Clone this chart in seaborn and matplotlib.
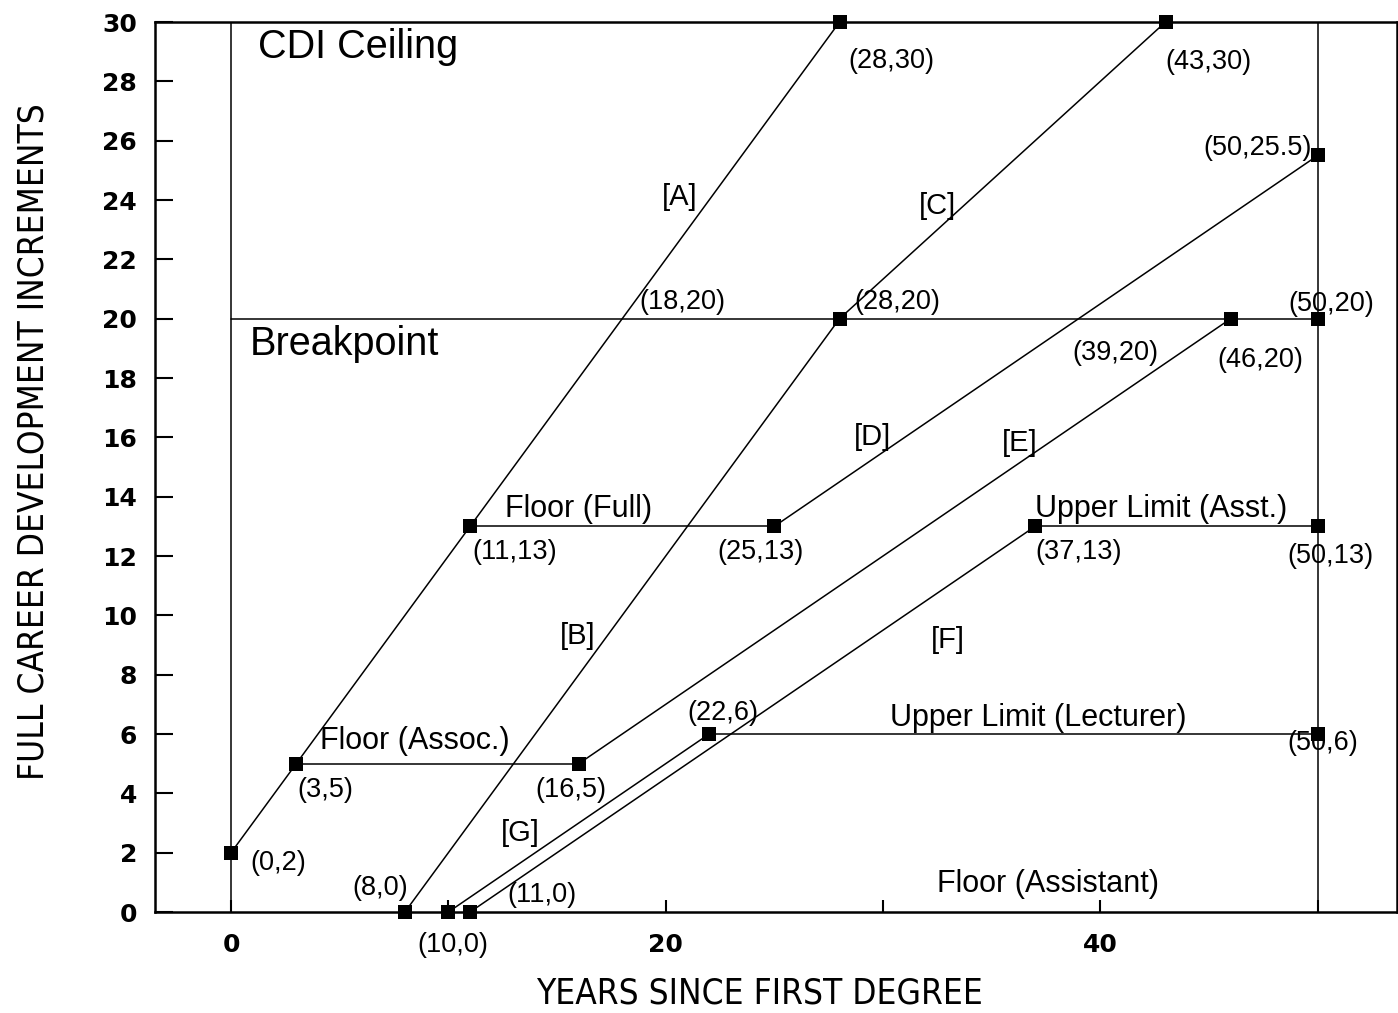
import numpy as np
import pandas as pd
import matplotlib
matplotlib.use("Agg")
import matplotlib.pyplot as plt
import seaborn as sns

# rising paths (years since first degree, CDI increments)
path_A_x = [0, 3, 11, 28]
path_A_y = [2, 5, 13, 30]
path_B_x = [8, 28]
path_B_y = [0, 20]
path_C_x = [28, 43]
path_C_y = [20, 30]
path_D_x = [25, 50]
path_D_y = [13, 25.5]
path_E_x = [16, 46]
path_E_y = [5, 20]
path_F_x = [11, 37]
path_F_y = [0, 13]
path_G_x = [10, 22]
path_G_y = [0, 6]

# horizontal limits / floors
level_names = ["Breakpoint", "Floor (Full)", "Floor (Assoc.)",
               "Upper Limit (Asst.)", "Upper Limit (Lecturer)"]
level_y = [20, 13, 5, 13, 6]
level_x0 = [0, 11, 3, 37, 22]
level_x1 = [50, 25, 16, 50, 50]

# vertical bounds
bound_x = [0, 50]
bound_y0 = 0
bound_y1 = 30

# marked points
point_x = [0, 3, 8, 10, 11, 16, 22, 11, 25, 37, 28, 46, 50, 50, 50, 50, 28, 43]
point_y = [2, 5, 0, 0, 0, 5, 6, 13, 13, 13, 20, 20, 20, 13, 6, 25.5, 30, 30]

# labelled coordinates (incl. two unmarked crossings)
coord_x = [28, 43, 50, 18, 28, 50, 39, 46, 11, 25, 37, 50, 50, 22, 3, 16, 0, 8, 10, 11]
coord_y = [30, 30, 25.5, 20, 20, 20, 20, 20, 13, 13, 13, 13, 6, 6, 5, 5, 2, 0, 0, 0]

path_names = ["A", "B", "C", "D", "E", "F", "G"]

# build long-form table of segments
rows = []
paths = [(path_A_x, path_A_y), (path_B_x, path_B_y), (path_C_x, path_C_y),
         (path_D_x, path_D_y), (path_E_x, path_E_y), (path_F_x, path_F_y),
         (path_G_x, path_G_y)]
for name, (xs, ys) in zip(path_names, paths):
    for x, y in zip(xs, ys):
        rows.append({"seg": name, "x": x, "y": y})
for name, y, x0, x1 in zip(level_names, level_y, level_x0, level_x1):
    rows.append({"seg": name, "x": x0, "y": y})
    rows.append({"seg": name, "x": x1, "y": y})
for bx in bound_x:
    rows.append({"seg": f"v{bx}", "x": bx, "y": bound_y0})
    rows.append({"seg": f"v{bx}", "x": bx, "y": bound_y1})
lines = pd.DataFrame(rows)
points = pd.DataFrame({"x": point_x, "y": point_y})

sns.set_style("ticks")
plt.rcParams["font.family"] = ["Liberation Sans", "DejaVu Sans"]
plt.rcParams["text.color"] = "black"
plt.rcParams["axes.labelcolor"] = "black"
plt.rcParams["xtick.color"] = "black"
plt.rcParams["ytick.color"] = "black"

fig = plt.figure(figsize=(13.98, 10.13), dpi=100)
ax = fig.add_axes([155 / 1398, 1 - 912 / 1013, 1242 / 1398, 890 / 1013])

sns.lineplot(data=lines, x="x", y="y", units="seg", estimator=None, sort=False,
             color="black", linewidth=1.1, ax=ax, legend=False)
sns.scatterplot(data=points, x="x", y="y", marker="s", s=110, color="black",
                edgecolor="black", linewidth=0, ax=ax, legend=False, zorder=5,
                clip_on=False)

ax.set_xlim(-3.5, 53.65)
ax.set_ylim(0, 30)
for sp in ax.spines.values():
    sp.set_visible(True)
    sp.set_linewidth(1.8)
    sp.set_color("black")

ax.set_yticks(np.arange(0, 31, 2))
ax.set_xticks([0, 20, 40])
ax.set_xticks([10, 30, 50], minor=True)
ax.tick_params(axis="y", direction="in", length=13, width=1.5, pad=13,
               labelsize=18, left=True, right=False)
ax.tick_params(axis="x", which="both", direction="in", length=9, width=1.5,
               pad=15, labelsize=18, bottom=True, top=False)
for lab in ax.get_xticklabels() + ax.get_yticklabels():
    lab.set_fontfamily("DejaVu Sans")
    lab.set_fontweight("bold")

ax.set_xlabel("YEARS SINCE FIRST DEGREE", fontsize=25.2, family="DejaVu Sans",
              fontstretch="condensed")
ax.set_ylabel("FULL CAREER DEVELOPMENT INCREMENTS", fontsize=25.2,
              family="DejaVu Sans", fontstretch="condensed")
ax.xaxis.set_label_coords(0.487, -0.073)
ax.yaxis.set_label_coords(-0.0845, 0.528)

# big region labels
ax.text(1.24, 29.15, "CDI Ceiling", fontsize=28.5, va="center", ha="left")
ax.text(0.87, 19.14, "Breakpoint", fontsize=28.5, va="center", ha="left")

# limit labels
limit_pos = [(12.6, 13.6), (4.1, 5.76), (37.0, 13.58), (30.33, 6.54)]
for name, (tx, ty) in zip(level_names[1:], limit_pos):
    ax.text(tx, ty, name, fontsize=22, va="center", ha="left")
ax.text(32.5, 0.94, "Floor (Assistant)", fontsize=22, va="center", ha="left")

# path labels
path_pos = [(20.66, 24.1), (15.97, 9.3), (32.5, 23.8), (29.5, 16.0),
            (36.3, 15.8), (33.0, 9.17), (13.3, 2.66)]
for name, (tx, ty) in zip(path_names, path_pos):
    ax.text(tx, ty, f"[{name}]", fontsize=21, va="center", ha="center")

# coordinate labels
coord_pos = [(28.4, 28.7), (43.0, 28.65), (49.75, 25.75), (18.8, 20.56),
             (28.7, 20.56), (48.64, 20.5), (38.7, 18.84), (45.4, 18.6),
             (11.1, 12.13), (22.4, 12.13), (37.0, 12.13), (48.6, 12.0),
             (48.6, 5.7), (21.0, 6.7), (3.04, 4.1), (14.0, 4.1),
             (0.87, 1.65), (5.6, 0.8), (8.56, -1.1), (12.7, 0.57)]
for cx, cy, (tx, ty) in zip(coord_x, coord_y, coord_pos):
    ha = "right" if (cx, cy) == (50, 25.5) else "left"
    ax.text(tx, ty, f"({cx:g},{cy:g})", fontsize=19.5, va="center", ha=ha,
            clip_on=False)

fig.savefig("out.png", dpi=100)
